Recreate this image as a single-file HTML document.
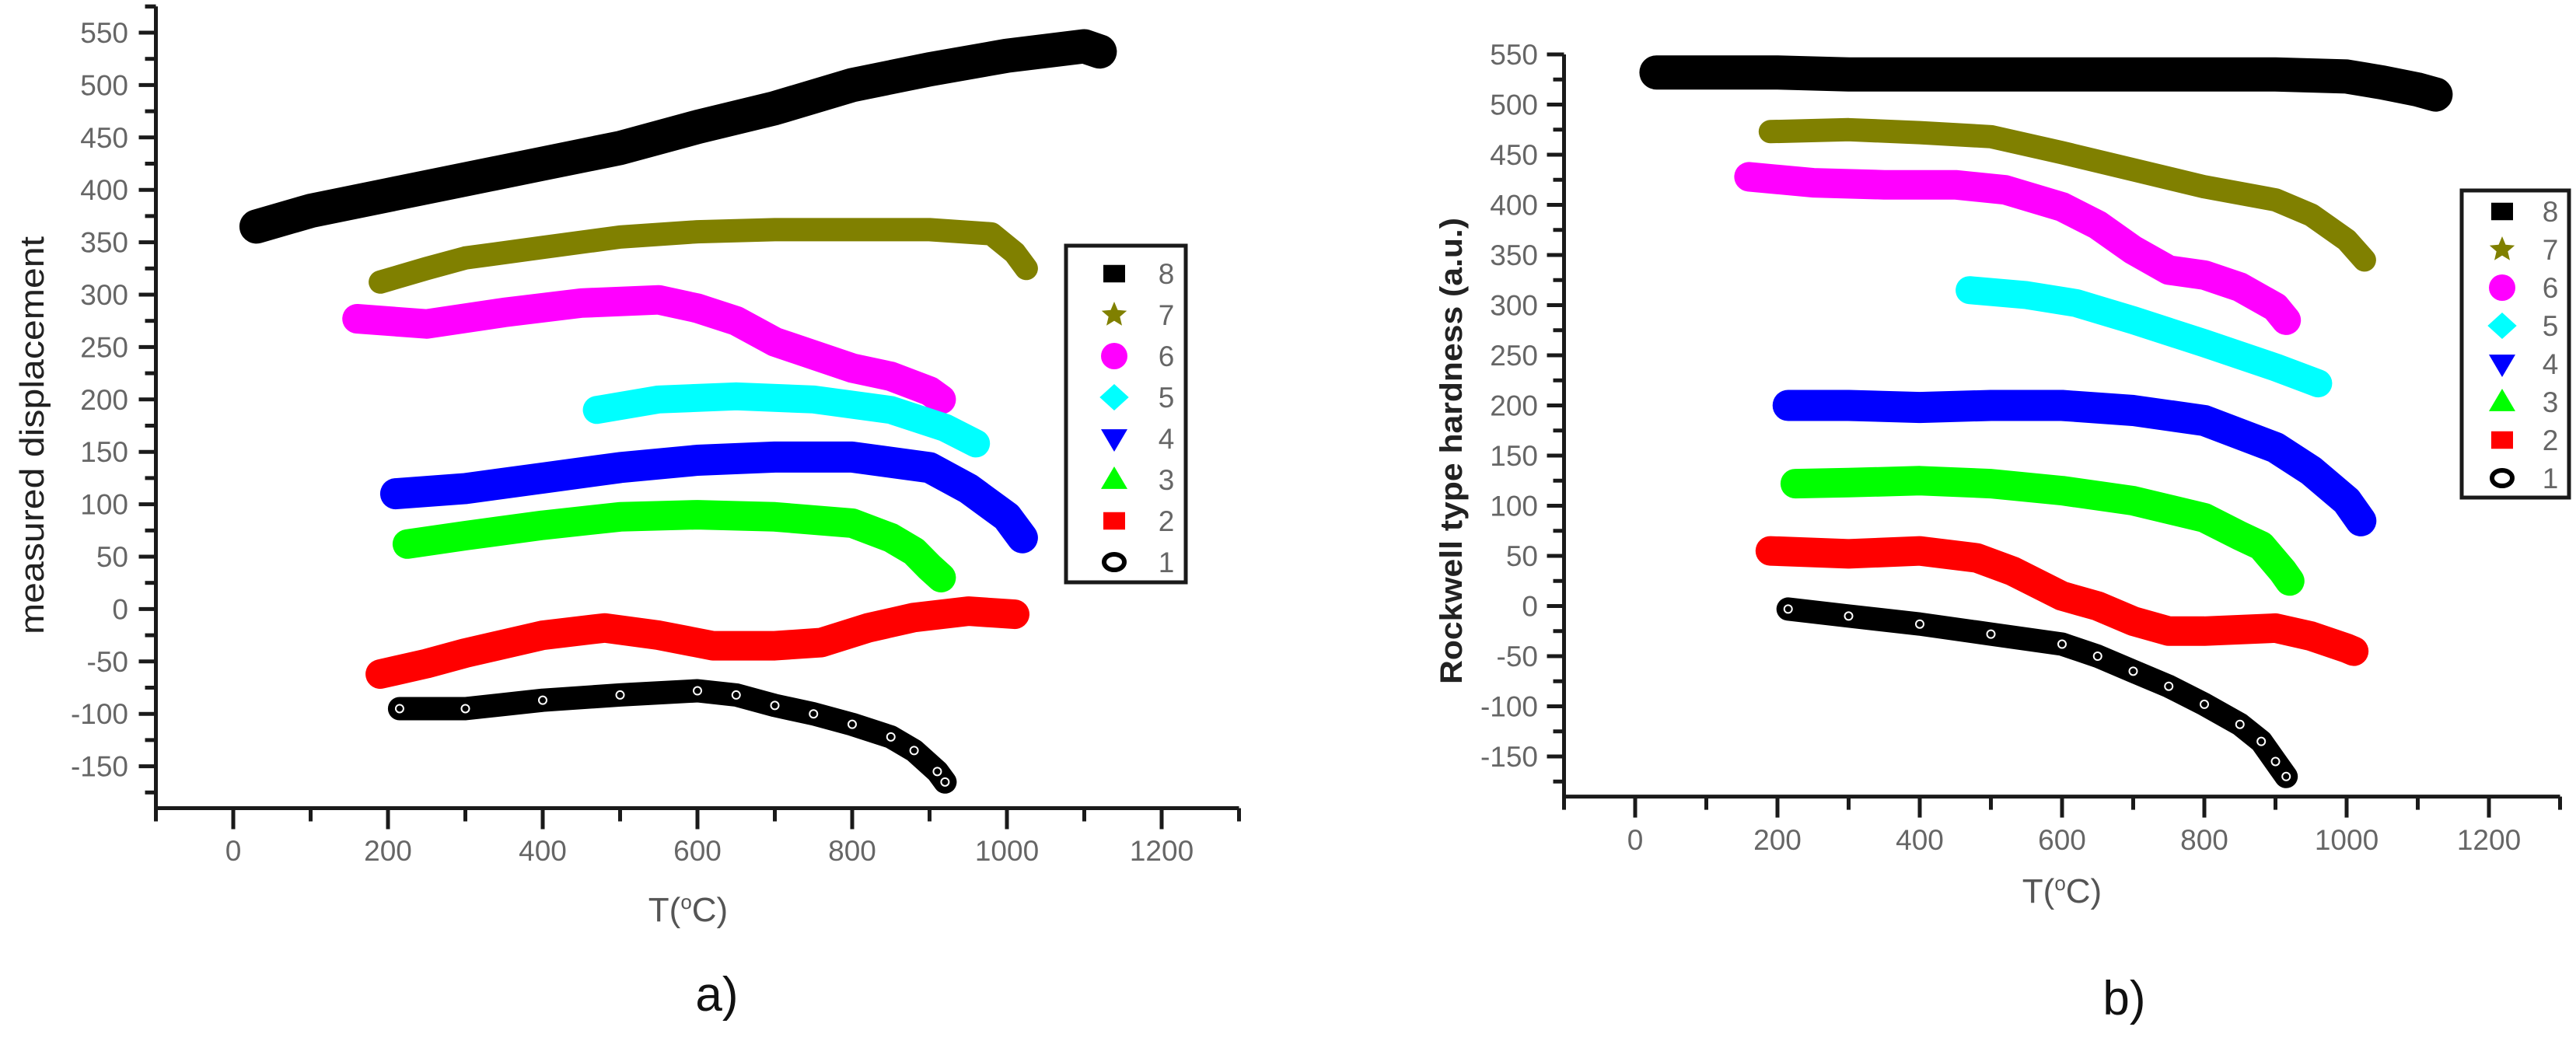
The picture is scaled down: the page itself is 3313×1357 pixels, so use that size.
<!DOCTYPE html>
<html><head><meta charset="utf-8"><style>
html,body{margin:0;padding:0;background:#fff;}
svg{display:block;}
text{font-family:"Liberation Sans",Arial,sans-serif;}
</style></head><body>
<svg id="fig" xmlns="http://www.w3.org/2000/svg" width="3313" height="1357" viewBox="0 0 3313 1357">
<rect x="0" y="0" width="3313" height="1357" fill="#fff"/>
<g id="chartA"></g>
<g id="chartB"></g>
<text x="922" y="1300" font-family="Liberation Serif,serif" font-size="62" text-anchor="middle" fill="#111">a)</text>
<text x="2732" y="1305" font-family="Liberation Serif,serif" font-size="62" text-anchor="middle" fill="#111">b)</text>
</svg>
<script>
// ---- shared categories ----
const seriesNames = ["8","7","6","5","4","3","2","1"];
const seriesColors = ["#000000","#808000","#ff00ff","#00ffff","#0000ff","#00ff00","#ff0000","#000000"];
const xTickLabels = [0,200,400,600,800,1000,1200];
const yTickLabels = [-150,-100,-50,0,50,100,150,200,250,300,350,400,450,500,550];

// ---- chart a: measured displacement ----
const aT8 = [30,100,200,300,400,500,600,700,800,900,1000,1100,1120];
const aV8 = [365,380,395,410,425,440,460,478,500,515,528,537,532];
const aT7 = [190,250,300,400,500,600,700,800,900,980,1010,1025];
const aV7 = [312,325,335,345,355,360,362,362,362,358,340,325];
const aT6 = [160,250,350,450,550,600,650,700,800,850,900,915];
const aV6 = [277,272,283,292,295,287,275,255,230,222,208,200];
const aT5 = [470,550,650,750,850,920,960];
const aV5 = [190,200,203,200,190,173,158];
const aT4 = [210,300,400,500,600,700,800,900,950,1000,1020];
const aV4 = [110,115,125,135,142,145,145,135,115,88,68];
const aT3 = [225,300,400,500,600,700,800,850,880,900,915];
const aV3 = [62,70,80,88,90,88,82,68,55,40,30];
const aT2 = [190,250,300,400,480,550,620,700,760,820,880,950,1010];
const aV2 = [-62,-52,-42,-25,-18,-25,-35,-35,-32,-18,-8,-2,-5];
const aT1 = [215,300,400,500,600,650,700,750,800,850,880,910,920];
const aV1 = [-95,-95,-87,-82,-78,-82,-92,-100,-110,-122,-135,-155,-165];

// ---- chart b: Rockwell type hardness ----
const bT8 = [30,100,200,300,400,500,600,700,800,900,1000,1050,1100,1125];
const bV8 = [532,532,532,530,530,530,530,530,530,530,528,522,515,510];
const bT7 = [190,300,400,500,600,700,800,900,950,1000,1025];
const bV7 = [473,475,472,468,452,435,418,405,390,365,345];
const bT6 = [160,250,350,450,520,600,650,700,750,800,850,900,915];
const bV6 = [428,422,420,420,415,398,380,355,335,330,318,298,285];
const bT5 = [470,550,620,700,800,900,960];
const bV5 = [315,310,302,285,262,238,222];
const bT4 = [215,300,400,500,600,700,800,900,950,1000,1020];
const bV4 = [200,200,198,200,200,195,185,158,135,105,85];
const bT3 = [225,300,400,500,600,700,800,850,880,910,920];
const bV3 = [122,123,125,122,115,105,88,70,60,35,25];
const bT2 = [190,300,400,480,530,600,650,700,750,800,900,950,1000,1010];
const bV2 = [55,52,55,48,35,10,0,-15,-25,-25,-22,-30,-42,-45];
const bT1 = [215,300,400,500,600,650,700,750,800,850,880,900,915];
const bV1 = [-3,-10,-18,-28,-38,-50,-65,-80,-98,-118,-135,-155,-170];

const NS = "http://www.w3.org/2000/svg";
function mk(parent, tag, attrs){
  const e = document.createElementNS(NS, tag);
  for (const k in attrs) e.setAttribute(k, attrs[k]);
  parent.appendChild(e);
  return e;
}
const widths = [44,30,38,36,40,38,38,30];

function markerPath(i, cx, cy, s){
  const h = s/2;
  switch(i){
    case 0: case 6: return `M${cx-h},${cy-h*0.8}h${s}v${s*0.8}h${-s}z`;
    case 1: { let p=""; for(let k=0;k<10;k++){const r=k%2?h*0.45:h; const a=-Math.PI/2+k*Math.PI/5; p+=(k?"L":"M")+(cx+r*Math.cos(a)).toFixed(1)+","+(cy+r*Math.sin(a)).toFixed(1);} return p+"z"; }
    case 2: return `M${cx-h},${cy}a${h},${h} 0 1,0 ${s},0a${h},${h} 0 1,0 ${-s},0z`;
    case 3: return `M${cx},${cy-h}L${cx+h*1.1},${cy}L${cx},${cy+h}L${cx-h*1.1},${cy}z`;
    case 4: return `M${cx-h},${cy-h*0.7}L${cx+h},${cy-h*0.7}L${cx},${cy+h}z`;
    case 5: return `M${cx-h},${cy+h*0.7}L${cx+h},${cy+h*0.7}L${cx},${cy-h}z`;
  }
  return "";
}

function drawChart(g, cfg, Ts, Vs){
  const X = v => cfg.x0 + v*cfg.kx;
  const Y = v => cfg.y550 + (550 - v)*cfg.ky;
  const axTop = Y(cfg.yTop), axBot = Y(-190), axL = X(-100), axR = X(1300);
  for (let i=0;i<8;i++){
    const sg = mk(g,"g",{});
    
    
    const pts = Ts[i].map((t,j)=>X(t).toFixed(1)+","+Y(Vs[i][j]).toFixed(1)).join(" ");
    const pl = mk(sg,"polyline",{points:pts,fill:"none",stroke:seriesColors[i],"stroke-width":widths[i],"stroke-linejoin":"round","stroke-linecap":"round"});
    
    
    if (i===7){
      for (let j=0;j<Ts[i].length;j++){
        const c = mk(sg,"circle",{cx:X(Ts[i][j]),cy:Y(Vs[i][j]),r:5,fill:"none",stroke:"#fff","stroke-width":2});
        
        
      }
    }
  }
  const ax = mk(g,"g",{stroke:"#1a1a1a","stroke-width":5,fill:"none"});
  
  
  mk(ax,"path",{d:`M${axL},${axTop}V${axBot}H${axR}`});
  for (let v=-175; v<=cfg.yTop; v+=25){
    const maj = (v%50===0);
    mk(ax,"line",{x1:axL-(maj?22:14),y1:Y(v),x2:axL,y2:Y(v)});
  }
  mk(ax,"line",{x1:axL-14,y1:axTop,x2:axL,y2:axTop});
  for (let v=-100; v<=1300; v+=100){
    const maj = (v%200===0);
    mk(ax,"line",{x1:X(v),y1:axBot,x2:X(v),y2:axBot+(maj?27:17)});
  }
  yTickLabels.forEach(v=>{
    const t = mk(g,"text",{x:cfg.yLabR,y:Y(v)+13,"font-size":37,"text-anchor":"end",fill:"#666"});
    t.textContent = v;
    
    
  });
  xTickLabels.forEach(v=>{
    const t = mk(g,"text",{x:X(v),y:cfg.xLabY+13,"font-size":37,"text-anchor":"middle",fill:"#666"});
    t.textContent = v;
    
    
  });
  const yt = mk(g,"text",{x:0,y:0,"font-size":cfg.ytFont,"text-anchor":"middle",fill:"#222","font-weight":cfg.ytBold?"bold":"normal",textLength:cfg.ytLen,lengthAdjust:"spacingAndGlyphs",transform:`translate(${cfg.ytX},${cfg.ytY}) rotate(-90)`});
  yt.textContent = cfg.yTitle;
  
  
  const xt = mk(g,"text",{x:cfg.xtX,y:cfg.xtY+15,"font-size":44,"text-anchor":"middle",fill:"#555"});
  xt.innerHTML = 'T(<tspan dy="-16" font-size="26">o</tspan><tspan dy="16">C)</tspan>';
  
  
  const lg = mk(g,"g",{});
  
  
  mk(lg,"rect",{x:cfg.lgL,y:cfg.lgT,width:cfg.lgR-cfg.lgL,height:cfg.lgB-cfg.lgT,fill:"#fff",stroke:"#1a1a1a","stroke-width":5});
  for (let i=0;i<8;i++){
    const cy = cfg.row8 + i*cfg.rowStep;
    const e = mk(lg,"g",{});
    
    
    if (i===7){
      mk(e,"ellipse",{cx:cfg.mkX,cy:cy,rx:13,ry:10,fill:"none",stroke:"#000","stroke-width":6});
    } else {
      const s = (i===0||i===6)?28:34;
      mk(e,"path",{d:markerPath(i,cfg.mkX,cy,s),fill:seriesColors[i]});
    }
    const t = mk(e,"text",{x:cfg.lbX,y:cy+13,"font-size":37,"text-anchor":"middle",fill:"#666"});
    t.textContent = seriesNames[i];
  }
}

drawChart(document.getElementById('chartA'), {
  id:"chart-a", x0:300, kx:0.995, y550:42, ky:1.348, yTop:575,
  yLabR:165, xLabY:1094, yTitle:"measured displacement", ytFont:44, ytBold:false,
  ytLen:512, ytX:56, ytY:560, xtX:885, xtY:1170,
  lgL:1371, lgR:1525, lgT:316, lgB:749, row8:352, rowStep:53, mkX:1433, lbX:1500
}, [aT8,aT7,aT6,aT5,aT4,aT3,aT2,aT1], [aV8,aV7,aV6,aV5,aV4,aV3,aV2,aV1]);

drawChart(document.getElementById('chartB'), {
  id:"chart-b", x0:2103, kx:0.915, y550:70, ky:1.29, yTop:550,
  yLabR:1978, xLabY:1080, yTitle:"Rockwell type hardness (a.u.)", ytFont:40, ytBold:true,
  ytLen:600, ytX:1880, ytY:580, xtX:2652, xtY:1146,
  lgL:3166, lgR:3304, lgT:245, lgB:640, row8:272, rowStep:49, mkX:3218, lbX:3280
}, [bT8,bT7,bT6,bT5,bT4,bT3,bT2,bT1], [bV8,bV7,bV6,bV5,bV4,bV3,bV2,bV1]);
</script>
</body></html>
